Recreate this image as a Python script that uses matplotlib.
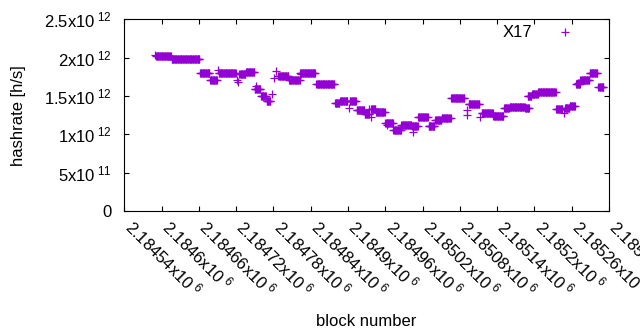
import matplotlib
matplotlib.use("Agg")
import matplotlib.pyplot as plt
import matplotlib.transforms as mtransforms
import numpy as np

VIOLET = "#9400d3"   # gnuplot default first colour

plt.rcParams["font.family"] = ["Liberation Sans", "DejaVu Sans"]
plt.rcParams["mathtext.fontset"] = "custom"
plt.rcParams["mathtext.rm"] = "Liberation Sans"
plt.rcParams["mathtext.it"] = "Liberation Sans"

# runs of consecutive blocks sharing one hashrate value (start incl., end excl.), in 1e12 h/s
run_start = [2184591, 2184616, 2184662, 2184678, 2184692, 2184725, 2184736, 2184750,
             2184760, 2184769, 2184788, 2184805, 2184823, 2184849, 2184879, 2184887,
             2184903, 2184914, 2184927, 2184937, 2184945, 2184960, 2184973, 2184986,
             2185003, 2185013, 2185030, 2185040, 2185051, 2185066, 2185094, 2185115,
             2185134, 2185151, 2185160, 2185185, 2185189, 2185196, 2185206, 2185235,
             2185249, 2185257, 2185267, 2185274, 2185289, 2185303]
run_end = [2184616, 2184662, 2184678, 2184690, 2184720, 2184736, 2184750, 2184760,
           2184769, 2184776, 2184805, 2184823, 2184848, 2184879, 2184887, 2184900,
           2184914, 2184927, 2184935, 2184945, 2184960, 2184973, 2184986, 2185003,
           2185013, 2185029, 2185040, 2185051, 2185066, 2185088, 2185112, 2185134,
           2185151, 2185160, 2185185, 2185192, 2185196, 2185206, 2185235, 2185246,
           2185257, 2185266, 2185274, 2185289, 2185302, 2185312]
run_value = [2.017, 1.978, 1.804, 1.704, 1.800, 1.793, 1.809, 1.595,
             1.496, 1.431, 1.757, 1.704, 1.796, 1.652, 1.408, 1.435,
             1.431, 1.321, 1.265, 1.326, 1.287, 1.148, 1.056, 1.118,
             1.108, 1.226, 1.108, 1.183, 1.209, 1.470, 1.391, 1.274,
             1.243, 1.339, 1.360, 1.339, 1.504, 1.530, 1.548, 1.326,
             1.339, 1.369, 1.660, 1.704, 1.796, 1.621]

# isolated blocks
single_block = [2184589, 2184691, 2184721, 2184723, 2184752, 2184778, 2184781, 2184784,
                2184824, 2184901, 2184934, 2184937, 2184962, 2185004, 2185032, 2185091,
                2185092, 2185113, 2185247, 2185270]
single_value = [2.031, 1.839, 1.712, 1.678, 1.630, 1.526, 1.731, 1.826,
                1.784, 1.347, 1.330, 1.226, 1.120, 1.026, 1.112, 1.252,
                1.313, 1.230, 1.282, 1.665]

x_ticks = np.arange(2184540, 2185321, 60)
y_ticks = [0, 5e11, 1e12, 1.5e12, 2e12, 2.5e12]
y_labels = ["0", r"5x10$^{\ 11}$", r"1x10$^{\ 12}$", r"1.5x10$^{\ 12}$",
            r"2x10$^{\ 12}$", r"2.5x10$^{\ 12}$"]

blocks, rates = [], []
for s, e, v in zip(run_start, run_end, run_value):
    b = np.arange(s, e)
    blocks.append(b)
    rates.append(np.full(len(b), v * 1e12))
blocks.append(np.array(single_block))
rates.append(np.array(single_value) * 1e12)
blocks = np.concatenate(blocks); rates = np.concatenate(rates)

FS = 12
fig = plt.figure(figsize=(6.4, 3.3), dpi=100)
ax = fig.add_axes([0.1942, 0.3606, 0.7574, 0.5809])
ax.plot(blocks, rates, ls="none", marker="+", ms=5.5, mew=0.9, color=VIOLET, label="X17")

ax.set_xlim(x_ticks[0], x_ticks[-1])
ax.set_ylim(0, 2.5e12)
ax.set_xticks(x_ticks)
ax.set_xticklabels([f"{t/1e6:g}x10$^{{\\ 6}}$" for t in x_ticks],
                   rotation=-45, ha="left", va="center", rotation_mode="anchor")
ax.set_yticks(y_ticks)
ax.set_yticklabels(y_labels)
ax.tick_params(direction="in", top=True, right=True, length=3.5, width=0.8,
               labelsize=FS, pad=6)
ax.tick_params(axis="y", pad=9)
# nudge rotated labels so they start just right of / below each tick, like gnuplot
shift = mtransforms.ScaledTranslation(0.04, -0.04, fig.dpi_scale_trans)
for lab in ax.get_xticklabels():
    lab.set_transform(lab.get_transform() + shift)
for sp in ax.spines.values():
    sp.set_linewidth(0.8)

ax.set_xlabel("block number", fontsize=FS, labelpad=10)
ax.set_ylabel("hashrate [h/s]", fontsize=FS, labelpad=13)
ax.legend(loc="upper right", bbox_to_anchor=(0.957, 1.003), borderaxespad=0,
          frameon=False, markerfirst=False, handletextpad=0.95, fontsize=FS)

fig.savefig("out.png", dpi=100)
